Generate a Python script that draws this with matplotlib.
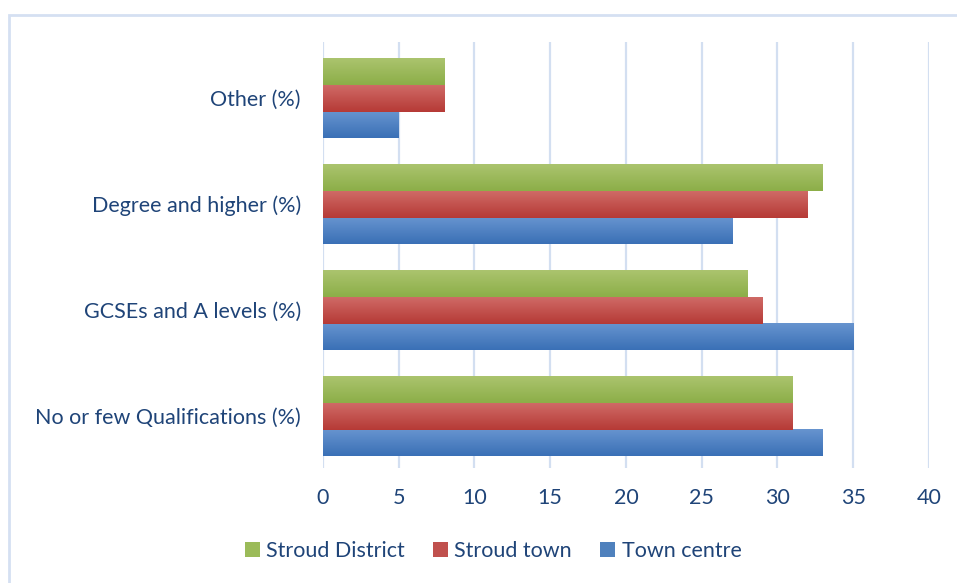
import numpy as np
import matplotlib
matplotlib.use("Agg")
import matplotlib.pyplot as plt
from matplotlib.colors import LinearSegmentedColormap
from matplotlib.patches import Rectangle, Patch

categories = ["No or few Qualifications (%)", "GCSEs and A levels (%)",
              "Degree and higher (%)", "Other (%)"]
town_centre = [33, 35, 27, 5]
stroud_town = [31, 29, 32, 8]
stroud_district = [31, 28, 33, 8]

series = [
    ("Town centre", town_centre, ("#6794cf", "#3a70b6"), "#4f81bd"),
    ("Stroud town", stroud_town, ("#cf6a66", "#b63a36"), "#c0504d"),
    ("Stroud District", stroud_district, ("#abc46e", "#8cae48"), "#9bbb59"),
]
xticks = [0, 5, 10, 15, 20, 25, 30, 35, 40]
text_color = "#1f4478"

plt.rcParams['font.family'] = ['Lato', 'DejaVu Sans']

fig = plt.figure(figsize=(9.57, 5.83), dpi=100)
ax = fig.add_axes([0.3375, 0.197, 0.6332, 0.731])

# outer chart frame
fig.patches.append(Rectangle((9 / 957, -0.1), 1.2, 1 - 15 / 583 + 0.1,
                             transform=fig.transFigure, fill=False,
                             edgecolor="#d5e0f2", linewidth=2, zorder=0))

y = np.arange(len(categories))
h = 0.252
grad = np.linspace(0, 1, 64).reshape(-1, 1)
handles = []
for i, (name, vals, (c_top, c_bot), solid) in enumerate(series):
    bars = ax.barh(y + (i - 1) * h, vals, height=h, color="none", zorder=2)
    cmap = LinearSegmentedColormap.from_list(name, [c_top, c_bot])
    for b in bars:
        x0, y0 = b.get_x(), b.get_y()
        ax.imshow(grad, cmap=cmap, aspect="auto", origin="upper",
                  extent=(x0, x0 + b.get_width(), y0, y0 + b.get_height()),
                  zorder=2)
    handles.append(Patch(facecolor=solid, label=name))

ax.set_xlim(0, 40)
ax.set_ylim(-0.49, 3.53)
ax.set_xticks(xticks)
ax.set_yticks(y)
ax.set_yticklabels(categories)
ax.grid(axis="x", color="#d3dff1", linewidth=1.6, zorder=0)
ax.set_axisbelow(True)
for s in ax.spines.values():
    s.set_visible(False)
ax.tick_params(length=0, labelsize=15.5, labelcolor=text_color)
ax.tick_params(axis="y", pad=16)
ax.tick_params(axis="x", pad=14)

fig.legend(handles=handles[::-1], loc="center", bbox_to_anchor=(493 / 957, 1 - 551 / 583),
           ncol=3, frameon=False, fontsize=15.5, labelcolor=text_color,
           handlelength=0.7, handleheight=0.7, handletextpad=0.3, columnspacing=1.3)

fig.savefig("out.png", dpi=100)
